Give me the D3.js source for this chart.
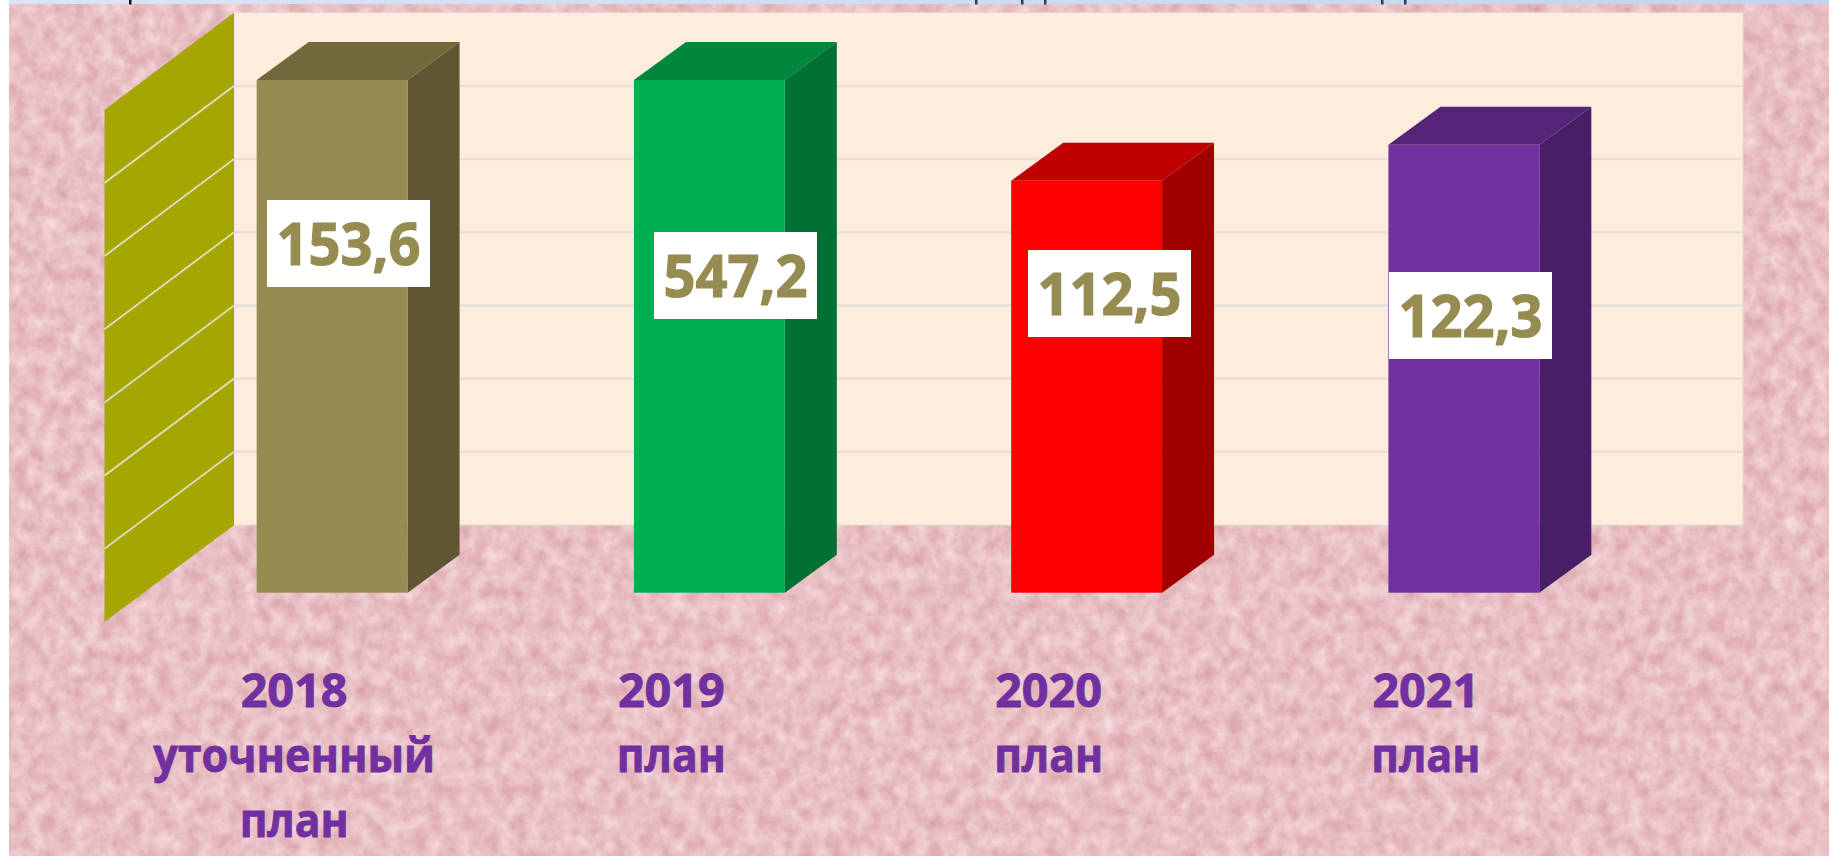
<!DOCTYPE html>
<html>
<head>
<meta charset="utf-8">
<script src="https://cdn.jsdelivr.net/npm/d3@7"></script>
<style>
  html, body { margin: 0; padding: 0; background: #fff; overflow: hidden; }
  svg { display: block; }
  text { font-family: "Open Sans", sans-serif; font-weight: 700; paint-order: stroke; stroke-linejoin: round; }
</style>
</head>
<body>
<div id="chart"></div>
<script>
// Data
const categories = ['2018', '2019', '2020', '2021'];
const subLabels = [['уточненный', 'план'], ['план'], ['план'], ['план']];
const values = [153.6, 547.2, 112.5, 122.3];
const valueLabels = ['153,6', '547,2', '112,5', '122,3'];
const gridTicks = [20, 40, 60, 80, 100, 120];
// descender stubs of the cropped heading along the top edge
const headingStubs = [129, 975, 1021, 1044, 1381, 1404];

// Colours
const frontColors = ['#968c52', '#00b050', '#ff0000', '#7030a0'];
const topColors = ['#71683c', '#00873e', '#c00000', '#542478'];
const sideColors = ['#5f5733', '#007033', '#a00000', '#481f66'];

const width = 1829, height = 856;
const barDepth = { x: 52, y: 38 };
const wallDepth = { x: 129.5, y: 97 };

const svg = d3.select('#chart').append('svg')
  .attr('width', width)
  .attr('height', height);

const defs = svg.append('defs');

// Pink paper texture
const paper = defs.append('filter').attr('id', 'paper')
  .attr('x', 0).attr('y', 0).attr('width', '100%').attr('height', '100%')
  .attr('color-interpolation-filters', 'sRGB');
paper.append('feTurbulence')
  .attr('type', 'fractalNoise')
  .attr('baseFrequency', '0.07 0.06')
  .attr('numOctaves', 5)
  .attr('seed', 7);
paper.append('feColorMatrix')
  .attr('type', 'matrix')
  .attr('values', '0.14 0 0 0 0.84  0.28 0 0 0 0.61  0.26 0 0 0 0.64  0 0 0 0 1');

const sky = defs.append('linearGradient').attr('id', 'sky');
sky.append('stop').attr('offset', 0).attr('stop-color', '#dae5f6');
sky.append('stop').attr('offset', 1).attr('stop-color', '#c1d4ef');

// Background
svg.append('rect').attr('x', 9).attr('y', 4).attr('width', width - 9).attr('height', height - 4)
  .attr('filter', 'url(#paper)');
svg.append('rect').attr('x', 9).attr('y', 0).attr('width', width - 9).attr('height', 4)
  .attr('fill', 'url(#sky)');
svg.selectAll('.stub').data(headingStubs).join('rect')
  .attr('class', 'stub')
  .attr('x', d => d).attr('y', 0).attr('width', 2.5).attr('height', 4.5)
  .attr('fill', (d, i) => i === 0 ? '#111' : '#1f3f6e');

// Scales
const yBar = d3.scaleLinear().domain([0, 140]).range([592.7, 80]).clamp(true);
const yWall = d3.scaleLinear().domain([0, 140]).range([525, 12.7]);
const xBar = d3.scaleBand().domain(categories).range([143.5, 1652.5]).paddingInner(0.6).paddingOuter(0.3);
const xAxis = d3.scaleBand().domain(categories).range([104.5, 1613.5]);

const wallLeft = xAxis.range()[0] + wallDepth.x;
const wallRight = xAxis.range()[1] + wallDepth.x;

// Back wall
svg.append('rect')
  .attr('x', wallLeft).attr('y', yWall(140))
  .attr('width', wallRight - wallLeft).attr('height', yWall(0) - yWall(140))
  .attr('fill', '#feecdc')
  .attr('stroke', '#e6dcd4').attr('stroke-width', 1);

svg.selectAll('.grid-back').data(gridTicks).join('line')
  .attr('class', 'grid-back')
  .attr('x1', wallLeft).attr('x2', wallRight)
  .attr('y1', d => yWall(d)).attr('y2', d => yWall(d))
  .attr('stroke', '#e4e0dc').attr('stroke-width', 2.5);

// Side wall
svg.append('path')
  .attr('d', d3.line()([
    [wallLeft, yWall(140)],
    [wallLeft, yWall(0)],
    [xAxis.range()[0], yWall(0) + wallDepth.y],
    [xAxis.range()[0], yWall(140) + wallDepth.y]
  ]) + 'Z')
  .attr('fill', '#a6a600');

svg.selectAll('.grid-side').data(gridTicks).join('line')
  .attr('class', 'grid-side')
  .attr('x1', wallLeft).attr('x2', xAxis.range()[0])
  .attr('y1', d => yWall(d)).attr('y2', d => yWall(d) + wallDepth.y)
  .attr('stroke', '#d9dcb4').attr('stroke-width', 2);

// Bars
const bars = svg.selectAll('.bar').data(categories).join('g').attr('class', 'bar');
const line = d3.line();

bars.append('path')
  .attr('fill', (d, i) => topColors[i])
  .attr('d', (d, i) => {
    const x0 = xBar(d), x1 = x0 + xBar.bandwidth(), y = yBar(values[i]);
    return line([[x0, y], [x1, y], [x1 + barDepth.x, y - barDepth.y], [x0 + barDepth.x, y - barDepth.y]]) + 'Z';
  });

bars.append('path')
  .attr('fill', (d, i) => sideColors[i])
  .attr('d', (d, i) => {
    const x1 = xBar(d) + xBar.bandwidth(), y = yBar(values[i]), y0 = yBar(0);
    return line([[x1, y], [x1 + barDepth.x, y - barDepth.y], [x1 + barDepth.x, y0 - barDepth.y], [x1, y0]]) + 'Z';
  });

bars.append('rect')
  .attr('fill', (d, i) => frontColors[i])
  .attr('x', d => xBar(d))
  .attr('width', xBar.bandwidth())
  .attr('y', (d, i) => yBar(values[i]))
  .attr('height', (d, i) => yBar(0) - yBar(values[i]));

// Value labels, hand placed on the bars in the original
const labelLeft = [267, 654, 1028, 1389];
const labelTop = [200, 232, 250, 272];
const boxW = 163, boxH = 87;

const labels = svg.selectAll('.value').data(valueLabels).join('g')
  .attr('class', 'value')
  .attr('transform', (d, i) => `translate(${labelLeft[i]},${labelTop[i]})`);
labels.append('rect')
  .attr('width', boxW).attr('height', boxH)
  .attr('fill', '#fff');
labels.append('text')
  .attr('x', boxW / 2).attr('y', 65)
  .attr('text-anchor', 'middle')
  .attr('font-size', 59)
  .attr('fill', '#968c52')
  .attr('stroke', '#968c52').attr('stroke-width', 1.2)
  .attr('textLength', 144)
  .attr('lengthAdjust', 'spacingAndGlyphs')
  .text(d => d);

// Category labels
const catLabels = svg.selectAll('.cat').data(categories).join('g')
  .attr('class', 'cat')
  .attr('transform', d => `translate(${xAxis(d) + xAxis.bandwidth() / 2 + 1},0)`)
  .attr('text-anchor', 'middle')
  .attr('font-size', 46)
  .attr('fill', '#7030a0')
  .attr('stroke', '#7030a0').attr('stroke-width', 0.8);

catLabels.append('text')
  .attr('y', 706.7)
  .attr('textLength', 107)
  .attr('lengthAdjust', 'spacingAndGlyphs')
  .text(d => d);

catLabels.each(function (d, i) {
  d3.select(this).selectAll('.sub').data(subLabels[i]).join('text')
    .attr('class', 'sub')
    .attr('y', (s, j) => 771.7 + j * 65)
    .attr('textLength', s => s === 'план' ? 109 : 282)
    .attr('lengthAdjust', 'spacingAndGlyphs')
    .text(s => s);
});
</script>
</body>
</html>
